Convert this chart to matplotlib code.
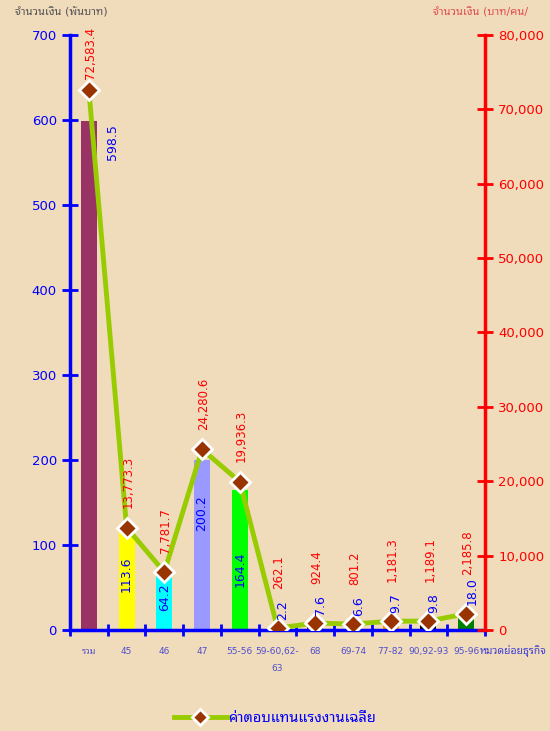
import matplotlib
matplotlib.use("Agg")
import matplotlib.pyplot as plt
import numpy as np
from matplotlib.lines import Line2D

plt.rcParams['font.family'] = ['DejaVu Sans', 'Noto Sans Thai Looped']

categories = ['รวม', '45', '46', '47', '55-56', '59-60,62-\n63', '68', '69-74',
              '77-82', '90,92-93', '95-96']
amount = [598.5, 113.6, 64.2, 200.2, 164.4, 2.2, 7.6, 6.6, 9.7, 9.8, 18.0]
avg_pay = [72583.4, 13773.3, 7781.7, 24280.6, 19936.3, 262.1, 924.4, 801.2,
           1181.3, 1189.1, 2185.8]
bar_colors = ['#993366', '#FFFF00', '#00FFFF', '#9999FF', '#00FF00', '#FF00FF',
              '#800000', '#CC99FF', '#FF9900', '#000000', '#008000']
# where the in-bar labels sit (left axis units), as placed in the original
inside_label_y = {1: 65, 2: 38, 3: 138, 4: 71}

bg = '#F0DBBB'
blue = '#0000FF'
red = '#FF0000'

fig = plt.figure(figsize=(5.5, 7.31), dpi=100, facecolor=bg)
ax = fig.add_axes([0.1273, 0.1382, 0.7545, 0.814])
ax.set_facecolor('none')
x = np.arange(len(categories))

ax.bar(x, amount, width=0.42, color=bar_colors, zorder=2)
ax.set_xlim(-0.5, len(categories) - 0.5)
ax.set_ylim(0, 700)
ax.set_yticks(range(0, 701, 100))

# x axis: ticks between categories, labels at centres
ax.set_xticks(np.arange(-0.5, len(categories), 1.0))
ax.set_xticklabels([])
ax.set_xticks(x, minor=True)
ax.set_xticklabels(categories, minor=True, fontsize=6.5, color='#4F4FD0',
                   linespacing=2.2, va='top')
ax.tick_params(axis='x', which='major', direction='inout', length=9, width=2,
               color=blue)
ax.tick_params(axis='x', which='minor', length=0, pad=12)
ax.tick_params(axis='y', direction='inout', length=11, width=2, color=blue,
               labelcolor=blue, labelsize=9.5, pad=4)

for s in ['top', 'right']:
    ax.spines[s].set_visible(False)
ax.spines['left'].set_color(blue)
ax.spines['left'].set_linewidth(2.5)
ax.spines['bottom'].set_color(blue)
ax.spines['bottom'].set_linewidth(2.5)

ax2 = ax.twinx()
ax2.set_ylim(0, 80000)
ax2.set_yticks(range(0, 80001, 10000))
ax2.set_yticklabels([f'{v:,}' for v in range(0, 80001, 10000)])
ax2.tick_params(axis='y', direction='inout', length=11, width=2, color=red,
                labelcolor=red, labelsize=9.5, pad=4)
for s in ['top', 'left', 'bottom']:
    ax2.spines[s].set_visible(False)
ax2.spines['right'].set_color(red)
ax2.spines['right'].set_linewidth(2.5)

ax2.plot(x, avg_pay, color='#99CC00', lw=3.5, marker='D', markersize=10,
         markerfacecolor='#993300', markeredgecolor='white', markeredgewidth=2,
         zorder=3)

# value labels
for i, (a, p) in enumerate(zip(amount, avg_pay)):
    if i == 0:
        ax2.annotate(f'{a:.1f}', (i, a), xycoords=ax.transData,
                     xytext=(17, -2), textcoords='offset points', rotation=90,
                     ha='center', va='top', color=blue, fontsize=9)
        red_off = 8
    elif i in inside_label_y:
        ax2.annotate(f'{a:.1f}', (i, inside_label_y[i]), xycoords=ax.transData,
                     rotation=90, ha='center', va='center', color=blue,
                     fontsize=9)
        red_off = 14
    else:
        ax2.annotate(f'{a:.1f}', (i, p), xytext=(4, 6),
                     textcoords='offset points', rotation=90, ha='center',
                     va='bottom', color=blue, fontsize=9)
        red_off = 28
    ax2.annotate(f'{p:,.1f}', (i, p), xytext=(1, red_off),
                 textcoords='offset points', rotation=90, ha='center',
                 va='bottom', color=red, fontsize=8.5, annotation_clip=False)

fig.text(0.027, 0.983, 'จำนวนเงิน (พันบาท)', fontsize=8, color='#555555',
         ha='left', va='center')
fig.text(0.787, 0.983, 'จำนวนเงิน (บาท/คน/', fontsize=8, color='#E05050',
         ha='left', va='center')
fig.text(0.873, 0.11, 'หมวดย่อยธุรกิจ', fontsize=7.5, color='#4040D0',
         ha='left', va='center')

handle = Line2D([], [], color='#99CC00', lw=3.5, marker='D', markersize=8,
                markerfacecolor='#993300', markeredgecolor='white',
                markeredgewidth=2)
leg = fig.legend([handle], ['ค่าตอบแทนแรงงานเฉลี่ย'], loc='center',
                 bbox_to_anchor=(0.5, 0.018), frameon=False, handlelength=3.6,
                 handletextpad=0.1, fontsize=10.5)
for t in leg.get_texts():
    t.set_color(blue)
    t.set_fontweight('bold')

fig.savefig('out.png', dpi=100, facecolor=bg)
